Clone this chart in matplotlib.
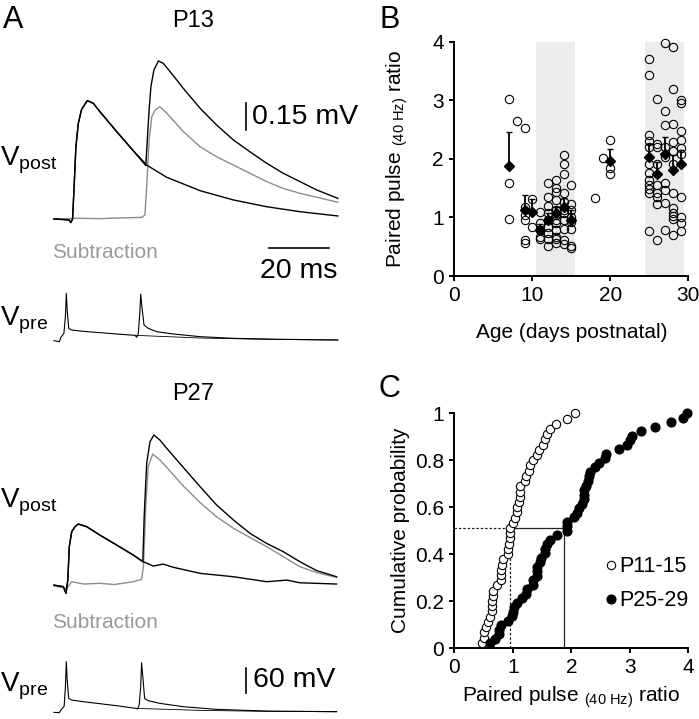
import numpy as np
import matplotlib
matplotlib.use('Agg')
import matplotlib.pyplot as plt

plt.rcParams['font.family'] = 'Liberation Sans'
plt.rcParams['mathtext.fontset'] = 'custom'
plt.rcParams['mathtext.rm'] = 'Liberation Sans'
plt.rcParams['mathtext.it'] = 'Liberation Sans'
plt.rcParams['mathtext.bf'] = 'Liberation Sans:bold'

# ---------------- panel A traces (t in ms, V in mV) ----------------
# P13, postsynaptic
p13_single_t = [0, 5.0, 5.6, 6.2, 6.7, 7.3, 8.1, 9.2, 11.1, 13.1, 15.3, 20.9, 26.4, 30.9,
                37.6, 43.1, 48.7, 59.8, 70.9, 82.0, 94.6]
p13_single_v = [0, -0.005, -0.02, 0, 0.18, 0.406, 0.537, 0.616, 0.665, 0.650, 0.603, 0.491,
                0.384, 0.303, 0.234, 0.197, 0.159, 0.107, 0.069, 0.041, 0.017]
p13_paired_t = [0, 5.0, 5.6, 6.2, 6.7, 7.3, 8.1, 9.2, 11.1, 13.1, 15.3, 20.9, 26.4, 30.6,
                31.1, 31.7, 32.3, 33.3, 34.8, 36.4, 38.7, 43.1, 48.7, 54.2, 59.8, 65.3,
                70.9, 76.4, 82.0, 87.6, 94.6]
p13_paired_v = [0, -0.005, -0.02, 0, 0.18, 0.406, 0.537, 0.616, 0.665, 0.650, 0.603, 0.491,
                0.384, 0.30, 0.444, 0.612, 0.743, 0.837, 0.888, 0.875, 0.828, 0.734, 0.622,
                0.528, 0.444, 0.378, 0.313, 0.257, 0.210, 0.163, 0.116]
p13_sub_t = [0, 8.0, 15.3, 22.0, 29.2, 30.3, 30.9, 31.7, 32.6, 33.7, 35.3, 37.6, 43.1, 48.7,
             54.2, 59.8, 65.3, 70.9, 76.4, 82.0, 87.6, 94.6]
p13_sub_v = [0, 0.004, 0.002, 0.006, 0.009, 0.022, 0.18, 0.444, 0.575, 0.612, 0.631, 0.594,
             0.491, 0.406, 0.350, 0.303, 0.257, 0.210, 0.172, 0.144, 0.122, 0.094]

# P27, postsynaptic
p27_single_t = [0, 3.1, 4.0, 4.6, 5.1, 5.9, 7.0, 8.1, 10.9, 15.3, 20.9, 26.4, 29.8, 33.1,
                36.4, 39.8, 48.7, 59.8, 70.9, 77.6, 82.0, 94.2]
p27_single_v = [0.009, 0, -0.037, 0.037, 0.225, 0.309, 0.337, 0.352, 0.337, 0.290, 0.234,
                0.178, 0.140, 0.116, 0.127, 0.109, 0.075, 0.056, 0.028, 0.037, 0.022, 0.015]
p27_paired_t = [0, 3.1, 4.0, 4.6, 5.1, 5.9, 7.0, 8.1, 10.9, 15.3, 20.9, 26.4, 29.6, 30.1,
                30.9, 32.0, 33.3, 35.3, 37.6, 43.1, 48.7, 54.2, 59.8, 65.3, 70.9, 76.4,
                82.0, 87.6, 94.2]
p27_paired_v = [0.009, 0, -0.037, 0.037, 0.225, 0.309, 0.337, 0.352, 0.337, 0.290, 0.234,
                0.178, 0.140, 0.412, 0.693, 0.815, 0.852, 0.824, 0.777, 0.670, 0.562,
                0.459, 0.375, 0.300, 0.243, 0.197, 0.140, 0.090, 0.056]
p27_sub_t = [0, 4.2, 5.9, 10.0, 15.3, 20.0, 26.4, 29.2, 29.8, 30.6, 31.4, 32.9, 35.3, 37.6,
             43.1, 48.7, 54.2, 59.8, 65.3, 70.9, 76.4, 82.0, 87.6, 94.2]
p27_sub_v = [0.004, -0.009, 0.028, 0.015, 0.019, 0.012, 0.028, 0.041, 0.112, 0.449, 0.674,
             0.745, 0.712, 0.670, 0.566, 0.472, 0.393, 0.328, 0.277, 0.225, 0.169, 0.112,
             0.079, 0.052]

# presynaptic action potentials (mV above rest)
p13_pre_pair_t = [0, 1.8, 2.3, 3.3, 3.8, 4.1, 4.4, 4.9, 5.9, 9.8, 15.3, 20.9, 27.0, 27.6,
                  28.1, 28.6, 28.9, 29.3, 30.0, 31.4, 34.2, 39.8, 48.7, 59.8, 76.4, 94.6]
p13_pre_pair_v = [-1.6, -4, 6.4, 16, 56, 112, 72, 28, 24, 20.8, 17.6, 14.4, 11.2, 6.4, 16,
                  64, 110, 80, 36, 28, 20, 14.4, 8, 4, 1.6, 0]
p13_pre_single_t = [27.0, 48.7, 70.9, 94.6]
p13_pre_single_v = [11.2, 4.8, 1.6, 0]
p27_pre_pair_t = [0, 1.8, 2.3, 3.4, 3.8, 4.1, 4.4, 4.9, 5.9, 9.8, 15.3, 20.9, 27.3, 27.8,
                  28.4, 28.9, 29.2, 29.7, 30.2, 31.4, 35.3, 43.1, 54.2, 70.9, 94.2]
p27_pre_pair_v = [-1.6, -2.4, 4, 13.6, 60, 120, 76, 32, 28, 24, 19.2, 14.4, 8, 6.4, 16, 60,
                  117.6, 76, 32, 26.4, 20, 12, 5.6, 1.6, 0]
p27_pre_single_t = [27.3, 48.7, 70.9, 94.2]
p27_pre_single_v = [8, 3.2, 0.8, 0]

# ---------------- panel B ----------------
b_ages = [7, 8, 9, 10, 11, 12, 13, 14, 15, 18, 19, 20, 25, 26, 27, 28, 29]
b_ratios = [
    [3.02, 1.58, 0.98],
    [2.65],
    [2.53, 1.17, 1.04, 0.96, 0.61, 0.57],
    [1.31, 0.84],
    [1.10, 0.91, 0.79, 0.67, 0.64],
    [1.59, 1.35, 1.20, 1.07, 0.96, 0.84, 0.73, 0.64, 0.51],
    [1.64, 1.51, 1.44, 1.30, 1.13, 1.04, 0.96, 0.91, 0.79, 0.67, 0.64, 0.57],
    [2.07, 1.92, 1.74, 1.41, 1.27, 1.13, 1.07, 0.96, 0.80, 0.61, 0.54],
    [1.55, 1.23, 1.13, 1.01, 0.93, 0.81, 0.51, 0.47],
    [1.33],
    [2.02],
    [2.33, 1.84, 1.74],
    [3.70, 3.43, 2.41, 2.31, 2.21, 1.92, 1.75, 1.64, 1.55, 1.48, 1.41, 0.77],
    [3.03, 2.25, 2.21, 1.92, 1.55, 1.41, 1.35, 1.23, 0.61],
    [3.98, 2.81, 2.58, 2.21, 2.04, 1.59, 1.47, 1.24, 0.79],
    [3.91, 3.19, 2.59, 2.28, 2.14, 1.92, 1.41, 1.16, 1.07, 1.02, 0.98, 0.70],
    [3.00, 2.95, 2.48, 2.32, 2.18, 2.09, 1.35, 1.01, 0.91, 0.76],
]
mean_ages = [7, 9, 10, 11, 12, 13, 14, 15, 20, 25, 26, 27, 28, 29]
mean_ratio = [1.87, 1.12, 1.09, 0.79, 0.96, 1.07, 1.18, 0.96, 1.97, 2.04, 1.74, 2.09, 1.81, 1.91]
mean_sem = [0.59, 0.26, 0.22, 0.10, 0.12, 0.11, 0.15, 0.17, 0.19, 0.22, 0.20, 0.29, 0.26, 0.24]
shade_young = (10.5, 15.5)
shade_old = (24.5, 29.5)

# ---------------- panel C ----------------
young_ages = (11, 15)
old_ages = (25, 29)
median_young = 0.95
median_old = 1.87
median_level = 0.51

W, H = 699, 719
fig = plt.figure(figsize=(W / 100, H / 100), dpi=100)


def px_axes(left, top, right, bottom):
    return fig.add_axes([left / W, 1 - bottom / H, (right - left) / W, (bottom - top) / H])


def ftext(x, y, s, **kw):
    return fig.text(x / W, 1 - y / H, s, **kw)


def trace_ax(x0, y0, ppx, ppy, tlim, vlim):
    ax = px_axes(x0 + tlim[0] * ppx, y0 - vlim[1] * ppy, x0 + tlim[1] * ppx, y0 - vlim[0] * ppy)
    ax.set_xlim(tlim)
    ax.set_ylim(vlim)
    ax.axis('off')
    return ax


PX_MS = 3.0
PX_MV_POST = 178.0
PX_MV_PRE = 25 / 60.0
gray = '#8c8c8c'

# P13 postsynaptic
ax = trace_ax(54, 219, PX_MS, PX_MV_POST, (-2, 100), (-0.25, 0.95))
ax.plot(p13_sub_t, p13_sub_v, color=gray, lw=1.0)
ax.plot(p13_single_t, p13_single_v, color='black', lw=1.0)
ax.plot(p13_paired_t, p13_paired_v, color='black', lw=1.0)
ax.plot([64, 64], [0.5, 0.65], color='black', lw=1.2)
ax.plot([71.8, 91.8], [-0.165, -0.165], color='black', lw=1.2)

# P27 postsynaptic
ax = trace_ax(54, 586.7, PX_MS, PX_MV_POST, (-2, 100), (-0.1, 0.95))
ax.plot(p27_sub_t, p27_sub_v, color=gray, lw=1.0)
ax.plot(p27_single_t, p27_single_v, color='black', lw=1.0)
ax.plot(p27_paired_t, p27_paired_v, color='black', lw=1.0)

# presynaptic
ax = trace_ax(54, 340, PX_MS, PX_MV_PRE, (-2, 100), (-10, 125))
ax.plot(p13_pre_pair_t, p13_pre_pair_v, color='black', lw=0.8)
ax.plot(p13_pre_single_t, p13_pre_single_v, color='black', lw=0.6)

ax = trace_ax(54, 711.7, PX_MS, PX_MV_PRE, (-2, 100), (-10, 125))
ax.plot(p27_pre_pair_t, p27_pre_pair_v, color='black', lw=0.8)
ax.plot(p27_pre_single_t, p27_pre_single_v, color='black', lw=0.6)
ax.plot([63.9, 63.9], [44.2, 104.2], color='black', lw=1.2)

ftext(3, 5, 'A', fontsize=22, va='top')
ftext(193, 10, 'P13', fontsize=17, va='top', ha='center')
ftext(193, 383, 'P27', fontsize=17, va='top', ha='center')
for yb in (165, 508):
    ftext(0, yb, r'$\mathrm{V_{post}}$', fontsize=20, va='baseline')
for yb in (326, 691.7):
    ftext(0, yb, r'$\mathrm{V_{pre}}$', fontsize=20, va='baseline')
for yb in (258.3, 628):
    ftext(51.7, yb, 'Subtraction', fontsize=15, va='baseline', color='#999999')
ftext(251.7, 117, '0.15 mV', fontsize=20.5, va='center')
ftext(299, 278.3, '20 ms', fontsize=20.5, va='baseline', ha='center')
ftext(253.3, 680, '60 mV', fontsize=20.5, va='center')


def style_axes(ax):
    for s in ('top', 'right'):
        ax.spines[s].set_visible(False)
    for s in ('left', 'bottom'):
        ax.spines[s].set_linewidth(1.4)
    ax.tick_params(direction='out', length=3.5, width=1.4, labelsize=15, pad=4)


# ---------------- panel B ----------------
axb = px_axes(454.3, 41.7, 688.3, 276)
axb.axvspan(*shade_young, color='#ececec', lw=0, zorder=0)
axb.axvspan(*shade_old, color='#ececec', lw=0, zorder=0)
for age, vals in zip(b_ages, b_ratios):
    axb.plot([age] * len(vals), vals, ls='none', marker='o', ms=6, mfc='none',
             mec='black', mew=0.8, clip_on=False, zorder=2)
axb.errorbar(mean_ages, mean_ratio, yerr=[np.zeros(len(mean_sem)), mean_sem], fmt='D',
             color='black', ms=5.5, elinewidth=1.3, capsize=2.5, capthick=1.0, zorder=3)
axb.set_xlim(0, 30)
axb.set_ylim(0, 4)
axb.set_xticks([0, 10, 20, 30])
axb.set_yticks([0, 1, 2, 3, 4])
style_axes(axb)
axb.set_xlabel('Age (days postnatal)', fontsize=15)
axb.set_ylabel(r'Paired pulse ${}_{\mathrm{(40\ Hz)}}$ ratio', fontsize=15)
axb.xaxis.set_label_coords(0.5, -0.2)
axb.yaxis.set_label_coords(-0.19, 0.5)
ftext(380, 5, 'B', fontsize=22, va='top')

# ---------------- panel C ----------------
young = np.sort(np.concatenate([v for a, v in zip(b_ages, b_ratios)
                                if young_ages[0] <= a <= young_ages[1]]))
old = np.sort(np.concatenate([v for a, v in zip(b_ages, b_ratios)
                              if old_ages[0] <= a <= old_ages[1]]))
axc = px_axes(454.3, 413.3, 688.3, 648)
axc.plot([0, median_young], [median_level] * 2, color='#222222', lw=0.9, ls=(0, (2, 1.5)))
axc.plot([median_young] * 2, [0, median_level], color='#222222', lw=0.9, ls=(0, (2, 1.5)))
axc.plot([median_young, median_old], [median_level] * 2, color='#222222', lw=0.9)
axc.plot([median_old] * 2, [0, median_level], color='#222222', lw=0.9)
axc.plot(young, np.arange(1, len(young) + 1) / len(young), ls='none', marker='o', ms=6,
         mfc='white', mec='black', mew=0.8, clip_on=False, label='P11-15', zorder=3)
axc.plot(old, np.arange(1, len(old) + 1) / len(old), ls='none', marker='o', ms=6.5,
         mfc='black', mec='black', mew=0.8, clip_on=False, label='P25-29', zorder=3)
axc.set_xlim(0, 4)
axc.set_ylim(0, 1)
axc.set_xticks([0, 1, 2, 3, 4])
axc.set_yticks([0, 0.2, 0.4, 0.6, 0.8, 1])
axc.set_yticklabels(['0', '0.2', '0.4', '0.6', '0.8', '1'])
style_axes(axc)
axc.set_xlabel(r'Paired pulse ${}_{\mathrm{(40\ Hz)}}$ ratio', fontsize=15)
axc.set_ylabel('Cumulative probability', fontsize=15)
axc.xaxis.set_label_coords(0.5, -0.155)
axc.yaxis.set_label_coords(-0.19, 0.5)
axc.legend(loc='upper left', bbox_to_anchor=(0.64, 0.39), frameon=False, fontsize=15.5,
           handlelength=0.6, handletextpad=0.1, labelspacing=0.6, borderpad=0,
           borderaxespad=0)
ftext(378, 374, 'C', fontsize=22, va='top')

fig.savefig('out.png', dpi=100)
